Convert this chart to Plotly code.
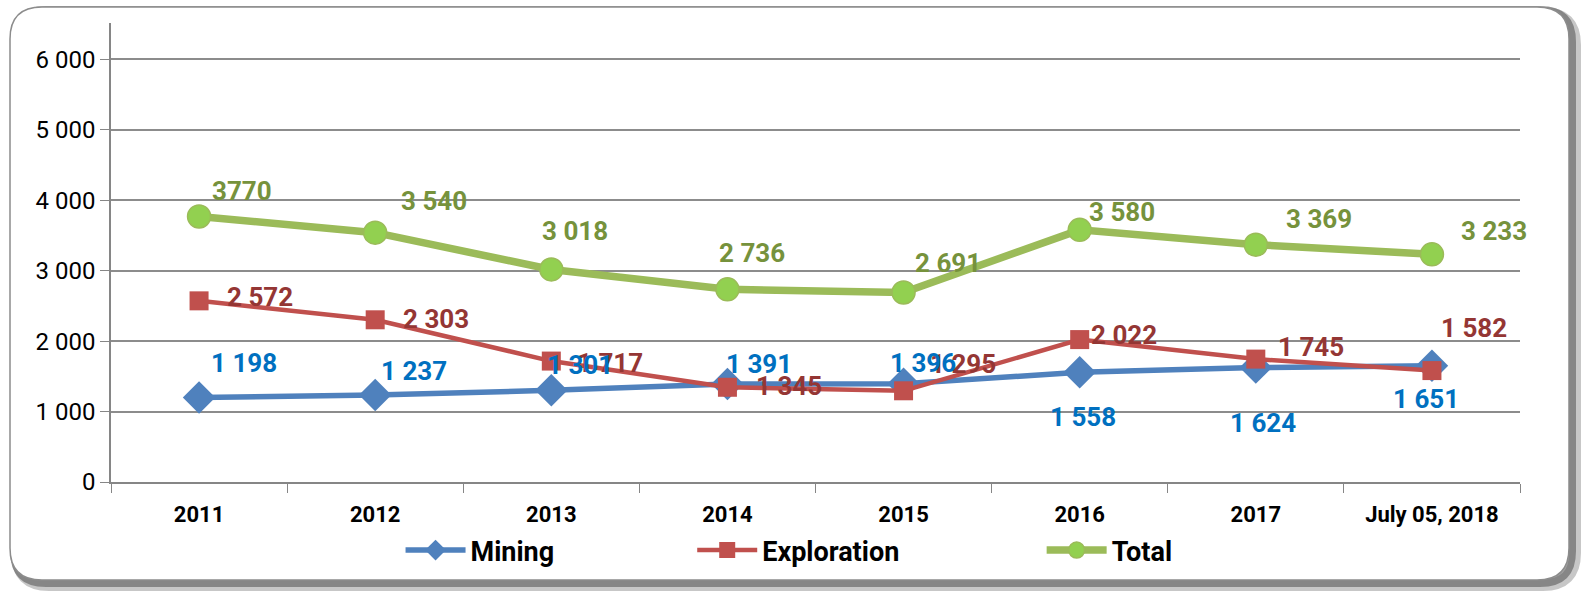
import plotly.graph_objects as go

categories = ["2011", "2012", "2013", "2014", "2015", "2016", "2017", "July 05, 2018"]
mining = [1198, 1237, 1301, 1391, 1396, 1558, 1624, 1651]
exploration = [2572, 2303, 1717, 1345, 1295, 2022, 1745, 1582]
total = [3770, 3540, 3018, 2736, 2691, 3580, 3369, 3233]

mining_labels = ["1 198", "1 237", "1 301", "1 391", "1 396", "1 558", "1 624", "1 651"]
exploration_labels = ["2 572", "2 303", "1 717", "1 345", "1 295", "2 022", "1 745", "1 582"]
total_labels = ["3770", "3 540", "3 018", "2 736", "2 691", "3 580", "3 369", "3 233"]
y_ticks = [0, 1000, 2000, 3000, 4000, 5000, 6000]
y_tick_text = ["0", "1 000", "2 000", "3 000", "4 000", "5 000", "6 000"]

# label offsets in pixels (dx right, dy down) relative to each marker
mining_off = [(45, -35), (39, -24), (29, -25), (32, -20), (19, -21), (3, 45), (7, 55), (-6, 33)]
exploration_off = [(61, -4), (61, -1), (59, 2), (62, -1), (59, -27), (44, -5), (55, -12), (42, -43)]
total_off = [(43, -25), (59, -32), (24, -38), (25, -36), (44, -29), (42, -18), (63, -26), (62, -23)]

FONT = "Roboto, Liberation Sans, sans-serif"

fig = go.Figure()
fig.add_trace(go.Scatter(
    x=categories, y=mining, name="Mining", mode="lines+markers", legend="legend",
    line=dict(color="#4F81BD", width=5.5),
    marker=dict(symbol="diamond", size=25, color="#4F81BD"),
    cliponaxis=False,
))
fig.add_trace(go.Scatter(
    x=categories, y=exploration, name="Exploration", mode="lines+markers", legend="legend2",
    line=dict(color="#C0504D", width=4.5),
    marker=dict(symbol="square", size=19, color="#C0504D"),
    cliponaxis=False,
))
fig.add_trace(go.Scatter(
    x=categories, y=total, name="Total", mode="lines+markers", legend="legend3",
    line=dict(color="#9BBB59", width=7.5),
    marker=dict(symbol="circle", size=23, color="#92D050", line=dict(color="#9BBB59", width=1.5)),
    cliponaxis=False,
))

def add_labels(values, labels, offsets, color):
    # category axis: annotations are positioned by category index
    for i, (v, t, (dx, dy)) in enumerate(zip(values, labels, offsets)):
        fig.add_annotation(x=i, y=v, text=t, showarrow=False, xanchor="center", yanchor="middle",
                           xshift=dx, yshift=-dy,
                           font=dict(color=color, size=26, family=FONT, weight="bold"))

add_labels(total, total_labels, total_off, "#76923C")
add_labels(exploration, exploration_labels, exploration_off, "#943634")
add_labels(mining, mining_labels, mining_off, "#0070C0")

# rounded frame with shadow (paper coords)
L, R, T, B = 111, 1520, 23, 482
W, H = R - L, B - T
def px(x):
    return (x - L) / W
def py(y):
    return (B - y) / H
def rrect(x0, y0, x1, y1, r):
    return (f"M {px(x0+r)},{py(y0)} L {px(x1-r)},{py(y0)} Q {px(x1)},{py(y0)} {px(x1)},{py(y0+r)} "
            f"L {px(x1)},{py(y1-r)} Q {px(x1)},{py(y1)} {px(x1-r)},{py(y1)} "
            f"L {px(x0+r)},{py(y1)} Q {px(x0)},{py(y1)} {px(x0)},{py(y1-r)} "
            f"L {px(x0)},{py(y0+r)} Q {px(x0)},{py(y0)} {px(x0+r)},{py(y0)} Z")

fig.add_shape(type="path", xref="paper", yref="paper", path=rrect(17, 13, 1575, 585, 32),
              line=dict(color="rgba(70,70,70,0.3)", width=12), layer="below")
fig.add_shape(type="path", xref="paper", yref="paper", path=rrect(14, 10, 1572, 583, 32),
              line=dict(color="rgba(70,70,70,0.5)", width=8), layer="below")
fig.add_shape(type="path", xref="paper", yref="paper", path=rrect(10, 7, 1569, 580, 32),
              line=dict(color="#8c8c8c", width=1.5), fillcolor="white", layer="below")

leg_common = dict(orientation="h", xanchor="left", y=-0.096, yanchor="top",
                  font=dict(size=27, family=FONT, weight="bold"),
                  itemwidth=60, bgcolor="rgba(0,0,0,0)")

fig.update_layout(
    width=1582, height=591,
    margin=dict(l=L, r=1582 - R, t=T, b=591 - B, autoexpand=False),
    paper_bgcolor="white", plot_bgcolor="rgba(0,0,0,0)",
    font=dict(family=FONT, color="black"),
    showlegend=True,
    legend=dict(x=0.2055, **leg_common),
    legend2=dict(x=0.4125, **leg_common),
    legend3=dict(x=0.6605, **leg_common),
    xaxis=dict(type="category", tickson="boundaries", ticks="outside", ticklen=9,
               tickcolor="#868686", showline=True, linecolor="#868686", linewidth=1.5,
               showgrid=False, tickfont=dict(size=22, family=FONT, weight="bold"),
               ticklabelstandoff=12, automargin=False, tickangle=0,
               range=[-0.5, len(categories) - 0.5]),
    yaxis=dict(range=[0, 6517], tickvals=y_ticks, ticktext=y_tick_text,
               ticks="outside", ticklen=9, tickcolor="#868686",
               showline=True, linecolor="#868686", linewidth=1.5,
               showgrid=True, gridcolor="#8c8c8c", gridwidth=1.5, zeroline=False,
               tickfont=dict(size=24, family=FONT), automargin=False),
)
fig.write_html("out.html", config={"displayModeBar": False},
               post_script="document.body.style.margin='0';document.body.style.overflow='hidden';")
